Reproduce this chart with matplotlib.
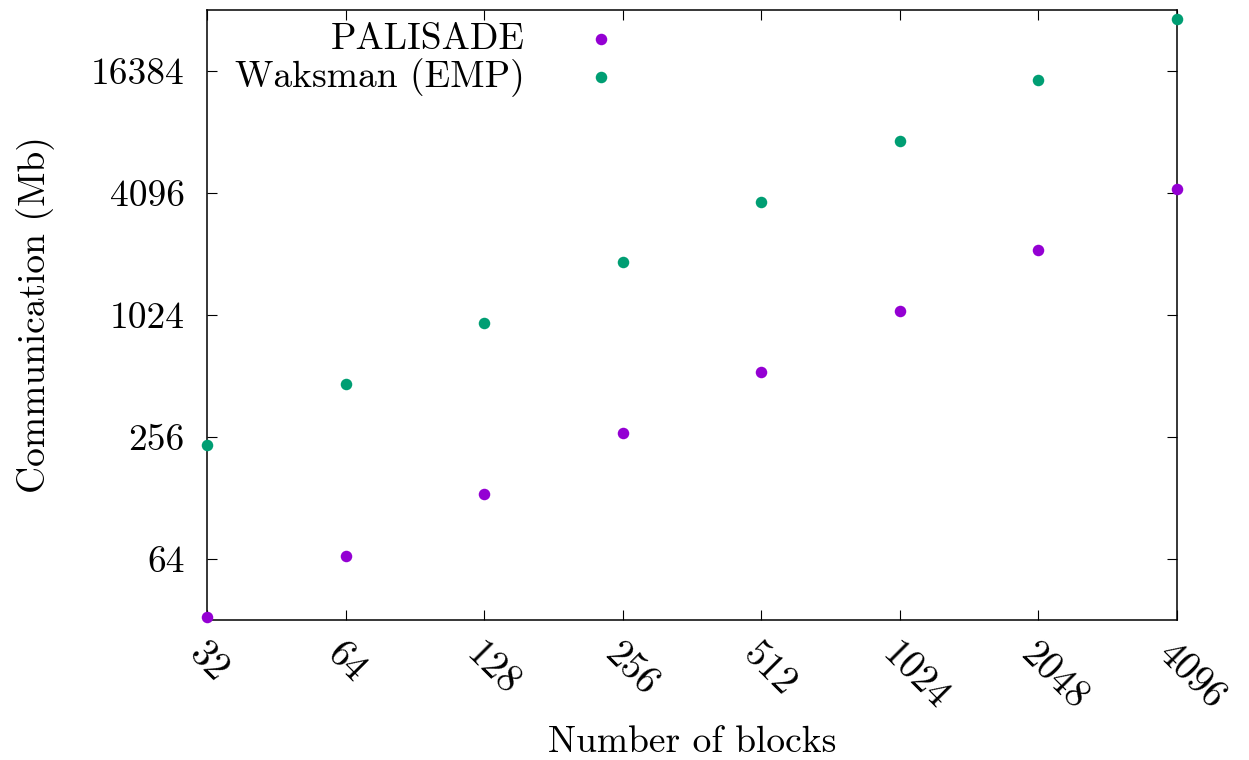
import matplotlib
matplotlib.use('Agg')
import matplotlib.pyplot as plt
from matplotlib.ticker import FixedLocator, FixedFormatter, NullLocator

# DATA
blocks = [32, 64, 128, 256, 512, 1024, 2048, 4096]
palisade = [33.2, 66.3, 134, 267, 534, 1066, 2133, 4266]
waksman = [233, 466, 930, 1860, 3714, 7420, 14830, 29600]
series_names = ['PALISADE', 'Waksman (EMP)']
y_ticks = [64, 256, 1024, 4096, 16384]

# STYLE CONFIG
plt.rcParams['font.family'] = ['cmr10', 'DejaVu Serif']
plt.rcParams['axes.formatter.use_mathtext'] = True
plt.rcParams['font.size'] = 27
COLORS = ['#9400D3', '#009E73']

fig = plt.figure(figsize=(12.49, 7.6), dpi=100)
ax = fig.add_axes([0.1657, 0.1842, 0.7767, 0.8026])

for vals, col in zip([palisade, waksman], COLORS):
    ax.plot(blocks, vals, 'o', color=col, markersize=8.3, markeredgewidth=0,
            clip_on=False, zorder=5)

ax.set_xscale('log', base=2)
ax.set_yscale('log', base=2)
ax.set_xlim(32, 4096)
ax.set_ylim(32, 32768)

ax.xaxis.set_major_locator(FixedLocator(blocks))
ax.xaxis.set_major_formatter(FixedFormatter([str(b) for b in blocks]))
ax.yaxis.set_major_locator(FixedLocator(y_ticks))
ax.yaxis.set_major_formatter(FixedFormatter([str(t) for t in y_ticks]))
ax.xaxis.set_minor_locator(NullLocator())
ax.yaxis.set_minor_locator(NullLocator())

ax.tick_params(direction='in', length=7, width=0.8, top=True, right=True)
ax.tick_params(axis='y', pad=16)
ax.tick_params(axis='x', pad=12, labelsize=28)
for lbl in ax.get_xticklabels():
    lbl.set_rotation(-45)
    lbl.set_ha('left')
    lbl.set_va('top')
    lbl.set_rotation_mode('anchor')
for sp in ax.spines.values():
    sp.set_linewidth(1.1)

ax.set_xlabel('Number of blocks', labelpad=6)
ax.set_ylabel('Communication (Mb)', labelpad=26)

# gnuplot-style key: right-aligned text, marker after it
key_rows = [0.952, 0.890]
for name, col, yk in zip(series_names, COLORS, key_rows):
    ax.text(0.328, yk, name, transform=ax.transAxes, ha='right', va='center')
    ax.plot([0.406], [yk], 'o', color=col, markersize=8.3, markeredgewidth=0,
            transform=ax.transAxes, clip_on=False)

fig.savefig('out.png', dpi=100)
